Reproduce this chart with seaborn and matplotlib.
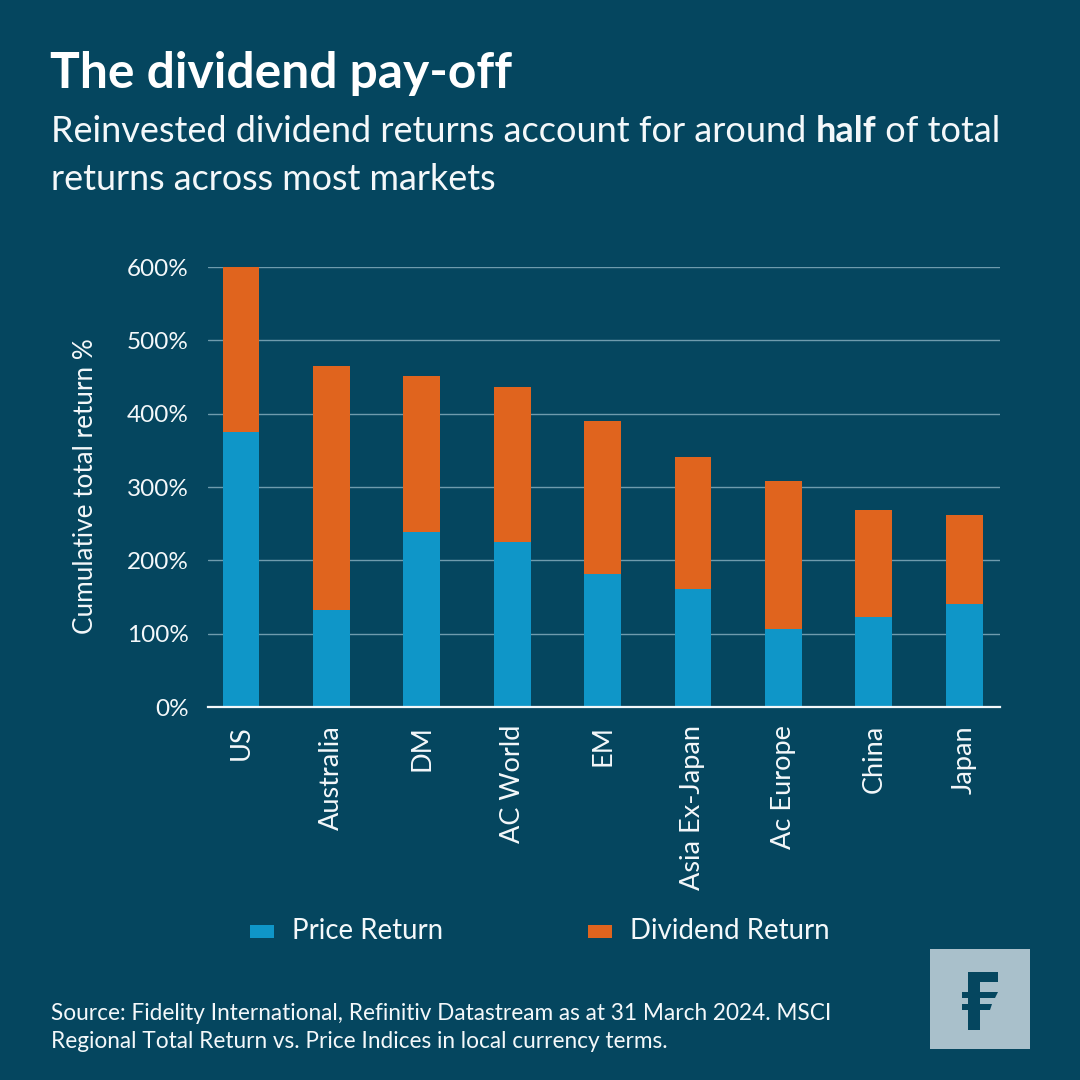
import matplotlib
matplotlib.use("Agg")
import matplotlib.pyplot as plt
import seaborn as sns
import pandas as pd
from matplotlib.patches import Rectangle, Polygon
from matplotlib.ticker import FuncFormatter

markets = ["US", "Australia", "DM", "AC World", "EM", "Asia Ex-Japan", "Ac Europe", "China", "Japan"]
price_return = [375, 132, 239, 225, 181, 161, 106, 123, 140]
dividend_return = [225, 333, 212, 211, 209, 180, 202, 146, 122]
yticks = [0, 100, 200, 300, 400, 500, 600]

BG = "#05465f"
BLUE = "#0f96c8"
ORANGE = "#e0641e"
WHITE = "#f4f8fa"
GRID = "#6f9bad"
LOGO = "#a9c0cb"

sns.set_theme(style="white")
plt.rcParams["font.family"] = ["Lato", "DejaVu Sans"]

W = H = 1080
fig = plt.figure(figsize=(10.8, 10.8), dpi=100, facecolor=BG)
ax = fig.add_axes([208 / W, 1 - 707 / H, (1000 - 208) / W, (707 - 267) / H], facecolor=BG)

df = pd.DataFrame({"market": markets, "price": price_return, "dividend": dividend_return})
df["total"] = df["price"] + df["dividend"]
sns.barplot(data=df, x="market", y="total", color=ORANGE, saturation=1, width=0.405, ax=ax,
            zorder=3, linewidth=0)
sns.barplot(data=df, x="market", y="price", color=BLUE, saturation=1, width=0.405, ax=ax,
            zorder=4, linewidth=0)

ax.set_xlim(-0.365, 8.396)
ax.set_ylim(0, 600)
ax.set_yticks(yticks)
ax.yaxis.set_major_formatter(FuncFormatter(lambda v, _: f"{int(v)}%"))
ax.grid(axis="y", color=GRID, lw=1.0, zorder=0)
ax.grid(axis="x", visible=False)
for s in ["top", "right", "left"]:
    ax.spines[s].set_visible(False)
ax.spines["bottom"].set_color(WHITE)
ax.spines["bottom"].set_linewidth(1.6)
ax.spines["bottom"].set_zorder(6)
ax.set_xlabel("")
ax.set_ylabel("")
ax.tick_params(axis="y", length=0, pad=14, labelsize=17.5, labelcolor=WHITE)
ax.tick_params(axis="x", length=0, pad=13, labelsize=19.5, labelcolor=WHITE, labelrotation=90)

fig.text(86 / W, 1 - 486 / H, "Cumulative total return %", rotation=90, color=WHITE,
         fontsize=18.8, ha="center", va="center")

# Headline
fig.text(50 / W, 1 - 74 / H, "The dividend pay-off", color="white", fontsize=35.8,
         fontweight="bold", ha="left", va="center")
r = fig.canvas.get_renderer()
parts = [("Reinvested dividend returns account for around ", "normal"), ("half", "bold"),
         (" of total", "normal")]
x = 51
for s, w in parts:
    t = fig.text(x / W, 1 - 132 / H, s.replace(" ", "\u00a0"), color=WHITE, fontsize=26,
                 fontweight=w, ha="left", va="center")
    x = t.get_window_extent(r).x1
fig.text(51 / W, 1 - 179 / H, "returns across most markets", color=WHITE, fontsize=25.8,
         ha="left", va="center")

# Legend
for x0, col, lab, tx in [(250, BLUE, "Price Return", 292), (588, ORANGE, "Dividend Return", 630)]:
    fig.add_artist(Rectangle((x0 / W, 1 - 938 / H), 24 / W, 13 / H, transform=fig.transFigure,
                             facecolor=col, edgecolor="none"))
    fig.text(tx / W, 1 - 931 / H, lab, color=WHITE, fontsize=19.9, ha="left", va="center")

# Source
fig.text(51 / W, 1 - 1014 / H,
         "Source: Fidelity International, Refinitiv Datastream as at 31 March 2024. MSCI",
         color=WHITE, fontsize=16.3, ha="left", va="center")
fig.text(51 / W, 1 - 1042 / H,
         "Regional Total Return vs. Price Indices in local currency terms.",
         color=WHITE, fontsize=16.3, ha="left", va="center")

# Logo
def px_poly(pts, col):
    fig.add_artist(Polygon([(a / W, 1 - b / H) for a, b in pts], closed=True,
                           transform=fig.transFigure, facecolor=col, edgecolor="none"))

px_poly([(930, 949), (1030, 949), (1030, 1049), (930, 1049)], LOGO)
px_poly([(968, 972), (998, 972), (998, 982), (980, 982), (980, 1030), (968, 1030)], BG)
px_poly([(962, 992), (998, 992), (995, 998), (962, 998)], BG)
px_poly([(962, 1004), (992, 1004), (990, 1010), (962, 1010)], BG)

fig.savefig("out.png", dpi=100, facecolor=BG)
